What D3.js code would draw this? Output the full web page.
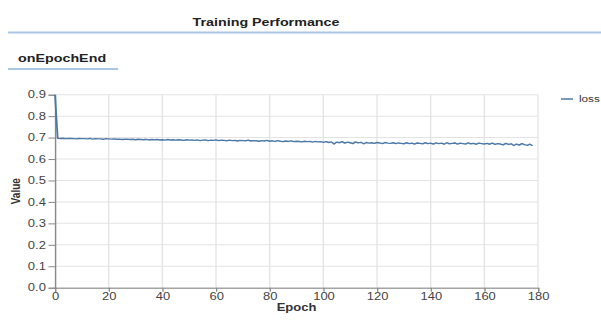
<!DOCTYPE html>
<html>
<head>
<meta charset="utf-8">
<script src="https://cdn.jsdelivr.net/npm/d3@7"></script>
<style>
html,body{margin:0;padding:0;background:#fff;}
svg{display:block;font-family:"Liberation Sans",Arial,Helvetica,sans-serif;}
</style>
</head>
<body>
<svg id="chart" width="601" height="320"></svg>
<script>
const title = "Training Performance";
const subtitle = "onEpochEnd";
const seriesName = "loss";
const xTicks = [0,20,40,60,80,100,120,140,160,180];
const yTicks = [0.0,0.1,0.2,0.3,0.4,0.5,0.6,0.7,0.8,0.9];
const loss = [
0.900,
0.697,0.696,0.697,0.695,0.696,0.696,0.695,0.694,0.696,0.695,
0.695,0.694,0.696,0.693,0.695,0.694,0.694,0.692,0.695,0.694,
0.693,0.694,0.692,0.693,0.691,0.692,0.693,0.691,0.692,0.690,
0.692,0.691,0.690,0.692,0.689,0.691,0.690,0.691,0.689,0.690,
0.688,0.691,0.689,0.690,0.688,0.690,0.689,0.687,0.690,0.688,
0.689,0.687,0.689,0.686,0.688,0.689,0.686,0.688,0.687,0.689,
0.686,0.688,0.687,0.685,0.688,0.686,0.687,0.684,0.687,0.686,
0.685,0.688,0.684,0.686,0.685,0.683,0.686,0.684,0.687,0.683,
0.685,0.682,0.686,0.683,0.681,0.684,0.682,0.685,0.681,0.683,
0.682,0.680,0.683,0.681,0.682,0.679,0.682,0.680,0.681,0.678,
0.681,0.677,0.680,0.670,0.679,0.676,0.681,0.674,0.679,0.676,
0.672,0.680,0.675,0.678,0.671,0.677,0.674,0.676,0.673,0.677,
0.675,0.672,0.677,0.674,0.673,0.676,0.672,0.675,0.673,0.671,
0.676,0.672,0.674,0.670,0.675,0.673,0.671,0.676,0.672,0.674,
0.670,0.675,0.672,0.674,0.669,0.676,0.671,0.673,0.675,0.670,
0.674,0.672,0.670,0.675,0.671,0.673,0.669,0.674,0.672,0.670,
0.673,0.669,0.674,0.668,0.672,0.670,0.666,0.673,0.668,0.671,
0.663,0.670,0.665,0.672,0.667,0.664,0.669,0.662
];
const epochs = loss.map((d,i)=>i);

// The reference is horizontally stretched; reproduce with a non-uniform viewBox
const SX = 1.3;
const VW = 601/SX, VH = 320;
const svg = d3.select("#chart")
  .attr("viewBox", `0 0 ${VW} ${VH}`)
  .attr("preserveAspectRatio","none");

const m = {left: 55/SX, right: 538/SX, top: 94.7, bottom: 287.7};
const x = d3.scaleLinear().domain([0,180]).range([m.left, m.right]);
const y = d3.scaleLinear().domain([0,0.9]).range([m.bottom, m.top]);

// Title + rule
svg.append("text").attr("x", 266/SX).attr("y", 26.5)
  .attr("text-anchor","middle").attr("font-weight","bold").attr("font-size",11)
  .attr("fill","#222").text(title);
svg.append("line").attr("x1", 8/SX).attr("x2", VW).attr("y1", 32.5).attr("y2", 32.5)
  .attr("stroke","#a9c5e8").attr("stroke-width",2);

svg.append("text").attr("x", 18/SX).attr("y", 62.5)
  .attr("font-weight","bold").attr("font-size",11)
  .attr("fill","#222").text(subtitle);
svg.append("line").attr("x1", 8/SX).attr("x2", 118/SX).attr("y1", 69).attr("y2", 69)
  .attr("stroke","#a9c5e8").attr("stroke-width",2);

// Grid
const grid = svg.append("g");
grid.selectAll(".gy").data(yTicks).join("line")
  .attr("x1", m.left).attr("x2", m.right)
  .attr("y1", d=>y(d)).attr("y2", d=>y(d))
  .attr("stroke","#e3e3e3").attr("stroke-width",1);
grid.selectAll(".gx").data(xTicks).join("line")
  .attr("x1", d=>x(d)).attr("x2", d=>x(d))
  .attr("y1", m.top).attr("y2", m.bottom)
  .attr("stroke","#e3e3e3").attr("stroke-width",1);

// Axes
const yAxis = svg.append("g").attr("transform",`translate(${m.left},0)`)
  .call(d3.axisLeft(y).tickValues(yTicks).tickFormat(d3.format(".1f")).tickSize(5).tickPadding(2));
const xAxis = svg.append("g").attr("transform",`translate(0,${m.bottom})`)
  .call(d3.axisBottom(x).tickValues(xTicks).tickFormat(d3.format("d")).tickSize(4).tickPadding(1.5));
[yAxis,xAxis].forEach(a=>{
  a.select(".domain").attr("stroke","#888");
  a.selectAll(".tick line").attr("stroke","#888");
  a.selectAll(".tick text").attr("fill","#444").attr("font-size",10)
    .attr("font-family","'Liberation Sans',Arial,sans-serif");
});

svg.append("text").attr("x", (m.left+m.right)/2).attr("y", 311.5)
  .attr("text-anchor","middle").attr("font-weight","bold").attr("font-size",10)
  .attr("fill","#333").text("Epoch");
svg.append("text")
  .attr("transform",`translate(${20/SX},${(m.top+m.bottom)/2}) rotate(-90)`)
  .attr("text-anchor","middle").attr("font-weight","bold").attr("font-size",10)
  .attr("fill","#333").text("Value");

// Line
const line = d3.line().x((d,i)=>x(epochs[i])).y(d=>y(d));
svg.append("path").datum(loss).attr("d", line)
  .attr("fill","none").attr("stroke","#4c78a8").attr("stroke-width",1.4)
  .attr("stroke-linejoin","round");

// Legend
const lg = svg.append("g");
lg.append("line").attr("x1", 561/SX).attr("x2", 573/SX).attr("y1", 99).attr("y2", 99)
  .attr("stroke","#4c78a8").attr("stroke-width",1.5);
lg.append("text").attr("x", 579/SX).attr("y", 102.5).attr("font-size",9)
  .attr("fill","#333").text(seriesName);
</script>
</body>
</html>
